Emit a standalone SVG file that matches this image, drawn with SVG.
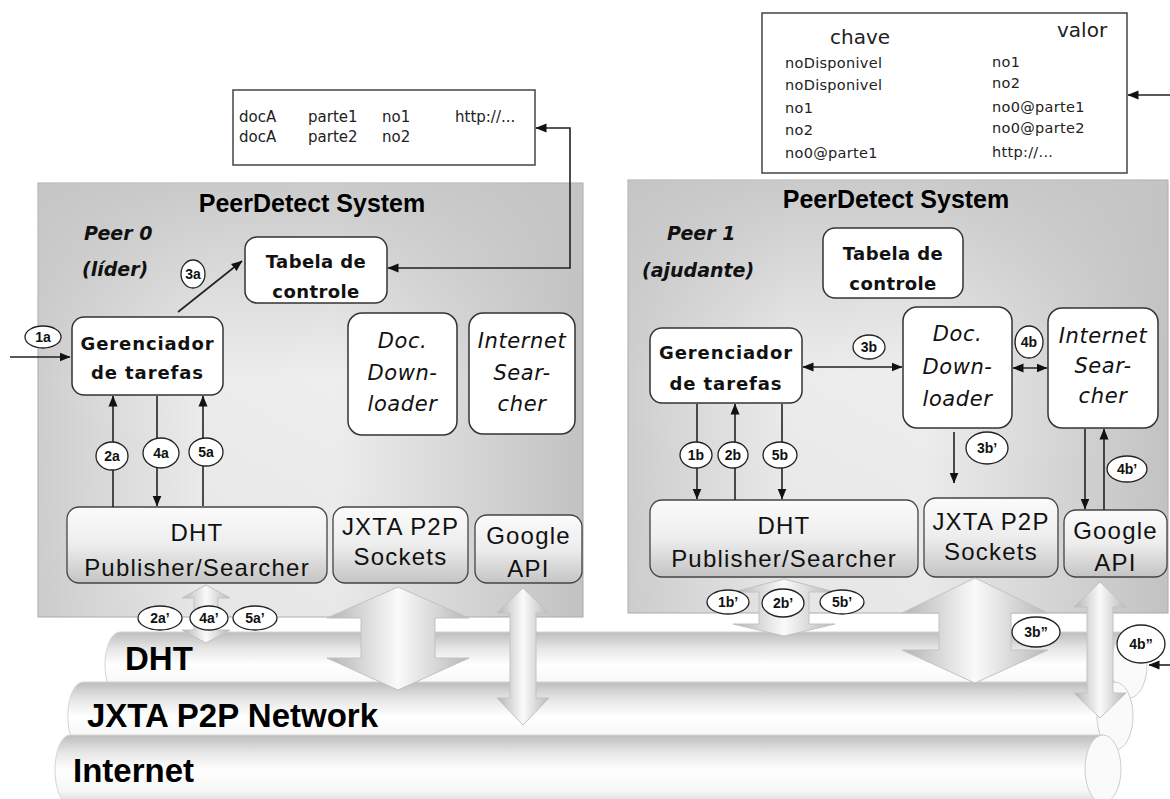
<svg xmlns="http://www.w3.org/2000/svg" width="1170" height="799" viewBox="0 0 1170 799">
<defs>
<style>
.panel{fill:url(#panelGrad);stroke:#a9a9a9;stroke-width:1}
.shade{fill:url(#panelShade);stroke:none}
.box{fill:#fff;stroke:#333;stroke-width:1.5}
.gbox{fill:url(#gboxGrad);stroke:#444;stroke-width:1.3}
.tblbox{fill:#fff;stroke:#444;stroke-width:1.5}
.title{font-family:"Liberation Sans",Arial,sans-serif;font-weight:bold;font-size:25px;text-anchor:middle;fill:#000}
.peer{font-family:"DejaVu Sans",sans-serif;font-weight:bold;font-style:oblique;font-size:19px;fill:#111}
.lbl{font-family:"DejaVu Sans",sans-serif;font-weight:bold;font-size:18px;letter-spacing:0.4px;text-anchor:middle;fill:#111}
.lblw{letter-spacing:0.9px}
.it{font-family:"DejaVu Sans",sans-serif;font-style:oblique;font-size:21px;letter-spacing:0.6px;text-anchor:middle;fill:#111}
.big{font-family:"Liberation Sans",Arial,sans-serif;font-size:24px;letter-spacing:1.2px;text-anchor:middle;fill:#111}
.tbl{font-family:"DejaVu Sans",sans-serif;font-size:15px;fill:#222}
.tbls{font-family:"DejaVu Sans",sans-serif;font-size:14.5px;letter-spacing:0.3px;fill:#222}
.hdr{font-family:"DejaVu Sans",sans-serif;font-size:20px;fill:#222}
.num{font-family:"Liberation Sans",Arial,sans-serif;font-weight:bold;font-size:14px;text-anchor:middle;fill:#111}
.circ{fill:#fff;stroke:#222;stroke-width:1.3}
.conn{stroke:#222;stroke-width:1.6;fill:none}
.bigarrow{fill:url(#arrowGrad);stroke:#c2c2c2;stroke-width:1}
.cyl{fill:url(#cylGrad);stroke:#d4d4d4;stroke-width:1}
.cylend{fill:#fafafa;stroke:#cdcdcd;stroke-width:1}
.layer{font-family:"Liberation Sans",Arial,sans-serif;font-weight:bold;font-size:33px;fill:#000}
</style>
<linearGradient id="panelGrad" x1="0" y1="0" x2="1" y2="0">
<stop offset="0" stop-color="#cecece"/>
<stop offset="0.3" stop-color="#ececec"/>
<stop offset="0.55" stop-color="#eeeeee"/>
<stop offset="1" stop-color="#c2c2c2"/>
</linearGradient>
<linearGradient id="panelShade" x1="0" y1="0" x2="0" y2="1">
<stop offset="0" stop-color="#c4c4c4" stop-opacity="0.85"/>
<stop offset="0.45" stop-color="#c4c4c4" stop-opacity="0"/>
<stop offset="1" stop-color="#c4c4c4" stop-opacity="0.15"/>
</linearGradient>
<linearGradient id="gboxGrad" x1="0" y1="0" x2="0" y2="1">
<stop offset="0" stop-color="#fbfbfb"/>
<stop offset="0.5" stop-color="#ededed"/>
<stop offset="1" stop-color="#c4c4c4"/>
</linearGradient>
<linearGradient id="arrowGrad" x1="0" y1="0" x2="1" y2="0">
<stop offset="0" stop-color="#b4b4b4"/>
<stop offset="0.5" stop-color="#fafafa"/>
<stop offset="1" stop-color="#b8b8b8"/>
</linearGradient>
<linearGradient id="cylGrad" x1="0" y1="0" x2="0" y2="1">
<stop offset="0" stop-color="#bdbdbd"/>
<stop offset="0.25" stop-color="#e6e6e6"/>
<stop offset="0.5" stop-color="#ffffff"/>
<stop offset="0.8" stop-color="#f6f6f6"/>
<stop offset="1" stop-color="#d6d6d6"/>
</linearGradient>
<marker id="ah" viewBox="0 0 11 10" refX="10.5" refY="5" markerWidth="11" markerHeight="10" markerUnits="userSpaceOnUse" orient="auto-start-reverse">
<path d="M0,0.5 L11,5 L0,9.5 Z" fill="#111"/>
</marker>
</defs>

<rect width="1170" height="799" fill="#fff"/>

<g id="network-layers">
<g id="layer-dht">
<path class="cyl" d="M120,632 H1129 V698 H120 A15 33 0 0 1 120,632 Z"/>
<ellipse class="cylend" cx="1129" cy="665" rx="18" ry="33"/>
<text class="layer" x="125" y="670">DHT</text>
</g>
<g id="layer-jxta">
<path class="cyl" d="M83,682 H1115 V751 H83 A15 34 0 0 1 83,682 Z"/>
<ellipse class="cylend" cx="1115" cy="716" rx="18" ry="34"/>
<text class="layer" x="87" y="727">JXTA P2P Network</text>
</g>
<g id="layer-internet">
<path class="cyl" d="M70,735 H1103 V805 H70 A15 35 0 0 1 70,735 Z"/>
<ellipse class="cylend" cx="1103" cy="769" rx="18" ry="34"/>
<text class="layer" x="73" y="782">Internet</text>
</g>
</g>

<g id="peer0">
<rect class="panel" x="38" y="183" width="545" height="434"/>
<rect class="shade" x="38.5" y="183.5" width="544" height="433"/>
<text class="title" x="312" y="212">PeerDetect System</text>
<text class="peer" x="84" y="240">Peer 0</text>
<text class="peer" x="82" y="276">(líder)</text>
</g>

<g id="peer1">
<rect class="panel" x="628" y="180" width="540" height="433"/>
<rect class="shade" x="628.5" y="180.5" width="539" height="432"/>
<text class="title" x="896" y="208">PeerDetect System</text>
<text class="peer" x="667" y="240">Peer 1</text>
<text class="peer" x="642" y="277">(ajudante)</text>
</g>

<g id="table0">
<rect class="tblbox" x="233" y="90" width="302" height="75"/>
<text class="tbl" x="239" y="122">docA</text>
<text class="tbl" x="308" y="122">parte1</text>
<text class="tbl" x="382" y="122">no1</text>
<text class="tbl" x="455" y="122">http://...</text>
<text class="tbl" x="239" y="142">docA</text>
<text class="tbl" x="308" y="142">parte2</text>
<text class="tbl" x="382" y="142">no2</text>
</g>

<g id="table1">
<rect class="tblbox" x="762" y="13" width="365" height="160"/>
<text class="hdr" x="830" y="44">chave</text>
<text class="hdr" x="1057" y="37">valor</text>
<text class="tbls" x="785" y="68">noDisponivel</text>
<text class="tbls" x="785" y="90">noDisponivel</text>
<text class="tbls" x="785" y="113">no1</text>
<text class="tbls" x="785" y="135">no2</text>
<text class="tbls" x="785" y="158">no0@parte1</text>
<text class="tbls" x="992" y="67">no1</text>
<text class="tbls" x="992" y="88">no2</text>
<text class="tbls" x="992" y="112">no0@parte1</text>
<text class="tbls" x="992" y="133">no0@parte2</text>
<text class="tbls" x="992" y="157">http://...</text>
</g>

<g id="tabela0">
<rect class="box" x="245" y="237" width="142" height="66" rx="12"/>
<text class="lbl" x="316" y="268">Tabela de</text>
<text class="lbl" x="316" y="298">controle</text>
</g>
<g id="gerenciador0">
<rect class="box" x="72" y="317" width="151" height="78" rx="12"/>
<text class="lbl lblw" x="147.5" y="350">Gerenciador</text>
<text class="lbl lblw" x="147.5" y="379">de tarefas</text>
</g>
<g id="downloader0">
<rect class="box" x="348" y="313" width="109" height="122" rx="14"/>
<text class="it" x="402.5" y="348">Doc.</text>
<text class="it" x="402.5" y="380">Down-</text>
<text class="it" x="402.5" y="411">loader</text>
</g>
<g id="searcher0">
<rect class="box" x="469" y="313" width="106" height="121" rx="14"/>
<text class="it" x="522" y="348">Internet</text>
<text class="it" x="522" y="380">Sear-</text>
<text class="it" x="522" y="411">cher</text>
</g>
<g id="dht0">
<rect class="gbox" x="67" y="507" width="260" height="76" rx="12"/>
<text class="big" x="197" y="541">DHT</text>
<text class="big" x="197" y="576">Publisher/Searcher</text>
</g>
<g id="jxta0">
<rect class="gbox" x="333" y="507" width="135" height="76" rx="12"/>
<text class="big" x="400.5" y="535">JXTA P2P</text>
<text class="big" x="400.5" y="565">Sockets</text>
</g>
<g id="google0">
<rect class="gbox" x="475" y="515" width="107" height="68" rx="12"/>
<text class="big" x="528.5" y="544">Google</text>
<text class="big" x="528.5" y="577">API</text>
</g>

<g id="tabela1">
<rect class="box" x="823" y="228" width="140" height="70" rx="12"/>
<text class="lbl" x="893" y="260">Tabela de</text>
<text class="lbl" x="893" y="290">controle</text>
</g>
<g id="gerenciador1">
<rect class="box" x="650" y="328" width="152" height="75" rx="12"/>
<text class="lbl lblw" x="726" y="359">Gerenciador</text>
<text class="lbl lblw" x="726" y="390">de tarefas</text>
</g>
<g id="downloader1">
<rect class="box" x="903" y="307" width="109" height="121" rx="14"/>
<text class="it" x="957.5" y="341">Doc.</text>
<text class="it" x="957.5" y="374">Down-</text>
<text class="it" x="957.5" y="406">loader</text>
</g>
<g id="searcher1">
<rect class="box" x="1048" y="308" width="110" height="120" rx="14"/>
<text class="it" x="1103" y="343">Internet</text>
<text class="it" x="1103" y="373">Sear-</text>
<text class="it" x="1103" y="403">cher</text>
</g>
<g id="dht1">
<rect class="gbox" x="650" y="500" width="268" height="77" rx="12"/>
<text class="big" x="784" y="534">DHT</text>
<text class="big" x="784" y="567">Publisher/Searcher</text>
</g>
<g id="jxta1">
<rect class="gbox" x="924" y="498" width="134" height="79" rx="12"/>
<text class="big" x="991" y="530">JXTA P2P</text>
<text class="big" x="991" y="560">Sockets</text>
</g>
<g id="google1">
<rect class="gbox" x="1064" y="510" width="103" height="67" rx="12"/>
<text class="big" x="1115.5" y="539">Google</text>
<text class="big" x="1115.5" y="571">API</text>
</g>

<g id="connectors">
<g id="big-arrows">
<path class="bigarrow" d="M206,585 L230,598 L218,598 L218,630 L230,630 L206,643 L182,630 L194,630 L194,598 L182,598 Z"/>
<path class="bigarrow" d="M398,587 L469,618 L435,618 L435,658 L469,658 L398,690 L327,658 L361,658 L361,618 L327,618 Z"/>
<path class="bigarrow" d="M523,588 L549,613 L536,613 L536,698 L549,698 L523,725 L497,698 L510,698 L510,613 L497,613 Z"/>
<path class="bigarrow" d="M784,579 L835,592 L809,592 L809,624 L835,624 L784,636 L733,624 L759,624 L759,592 L733,592 Z"/>
<path class="bigarrow" d="M975,578 L1048,613 L1011,613 L1011,650 L1048,650 L975,683 L902,650 L939,650 L939,613 L902,613 Z"/>
<path class="bigarrow" d="M1100,582 L1126,607 L1113,607 L1113,693 L1126,693 L1100,718 L1074,693 L1087,693 L1087,607 L1074,607 Z"/>
</g>
<path class="conn" d="M10,357 H70" marker-end="url(#ah)"/>
<path class="conn" d="M536,128 H570 V268 H388" marker-start="url(#ah)" marker-end="url(#ah)"/>
<path class="conn" d="M178,312 L242,261" marker-end="url(#ah)"/>
<path class="conn" d="M113,507 V396" marker-end="url(#ah)"/>
<path class="conn" d="M157,396 V506" marker-end="url(#ah)"/>
<path class="conn" d="M203,506 V396" marker-end="url(#ah)"/>
<path class="conn" d="M697,404 V499" marker-end="url(#ah)"/>
<path class="conn" d="M735,500 V404" marker-end="url(#ah)"/>
<path class="conn" d="M782,404 V499" marker-end="url(#ah)"/>
<path class="conn" d="M803,367 H902" marker-start="url(#ah)" marker-end="url(#ah)"/>
<path class="conn" d="M1013,368 H1047" marker-start="url(#ah)" marker-end="url(#ah)"/>
<path class="conn" d="M954,432 V483" marker-end="url(#ah)"/>
<path class="conn" d="M1085,429 V509" marker-end="url(#ah)"/>
<path class="conn" d="M1104,510 V429" marker-end="url(#ah)"/>
<path class="conn" d="M1170,95 H1128" marker-end="url(#ah)"/>
<path class="conn" d="M1170,665 H1149" marker-end="url(#ah)"/>
</g>

<g id="step-labels">
<g id="s1a"><ellipse class="circ" cx="43" cy="337" rx="18" ry="11"/><text class="num" x="43" y="342">1a</text></g>
<g id="s3a"><ellipse class="circ" cx="193" cy="274" rx="12" ry="14"/><text class="num" x="193" y="279">3a</text></g>
<g id="s2a"><ellipse class="circ" cx="112" cy="456" rx="16" ry="14"/><text class="num" x="112" y="461">2a</text></g>
<g id="s4a"><ellipse class="circ" cx="161" cy="453" rx="18" ry="15"/><text class="num" x="161" y="458">4a</text></g>
<g id="s5a"><ellipse class="circ" cx="206" cy="452" rx="17" ry="14"/><text class="num" x="206" y="457">5a</text></g>
<g id="s2ap"><ellipse class="circ" cx="160" cy="618" rx="22" ry="12"/><text class="num" x="160" y="623">2a’</text></g>
<g id="s4ap"><ellipse class="circ" cx="209" cy="618" rx="19" ry="12"/><text class="num" x="209" y="623">4a’</text></g>
<g id="s5ap"><ellipse class="circ" cx="255" cy="618" rx="22" ry="12"/><text class="num" x="255" y="623">5a’</text></g>
<g id="s3b"><ellipse class="circ" cx="869" cy="347" rx="16" ry="12"/><text class="num" x="869" y="352">3b</text></g>
<g id="s4b"><ellipse class="circ" cx="1029" cy="342" rx="14" ry="16"/><text class="num" x="1029" y="347">4b</text></g>
<g id="s1b"><ellipse class="circ" cx="696" cy="455" rx="16" ry="13"/><text class="num" x="696" y="460">1b</text></g>
<g id="s2b"><ellipse class="circ" cx="733" cy="455" rx="15" ry="13"/><text class="num" x="733" y="460">2b</text></g>
<g id="s5b"><ellipse class="circ" cx="780" cy="455" rx="17" ry="13"/><text class="num" x="780" y="460">5b</text></g>
<g id="s3bp"><ellipse class="circ" cx="987" cy="448" rx="21" ry="16"/><text class="num" x="987" y="453">3b’</text></g>
<g id="s4bp"><ellipse class="circ" cx="1127" cy="469" rx="20" ry="13"/><text class="num" x="1127" y="474">4b’</text></g>
<g id="s1bp"><ellipse class="circ" cx="728" cy="602" rx="21" ry="12"/><text class="num" x="728" y="607">1b’</text></g>
<g id="s2bp"><ellipse class="circ" cx="783" cy="603" rx="21" ry="14"/><text class="num" x="783" y="608">2b’</text></g>
<g id="s5bp"><ellipse class="circ" cx="842" cy="602" rx="22" ry="12"/><text class="num" x="842" y="607">5b’</text></g>
<g id="s3bpp"><ellipse class="circ" cx="1036" cy="632" rx="24" ry="15"/><text class="num" x="1036" y="637">3b”</text></g>
<g id="s4bpp"><ellipse class="circ" cx="1141" cy="644" rx="24" ry="19"/><text class="num" x="1141" y="649">4b”</text></g>
</g>
</svg>
